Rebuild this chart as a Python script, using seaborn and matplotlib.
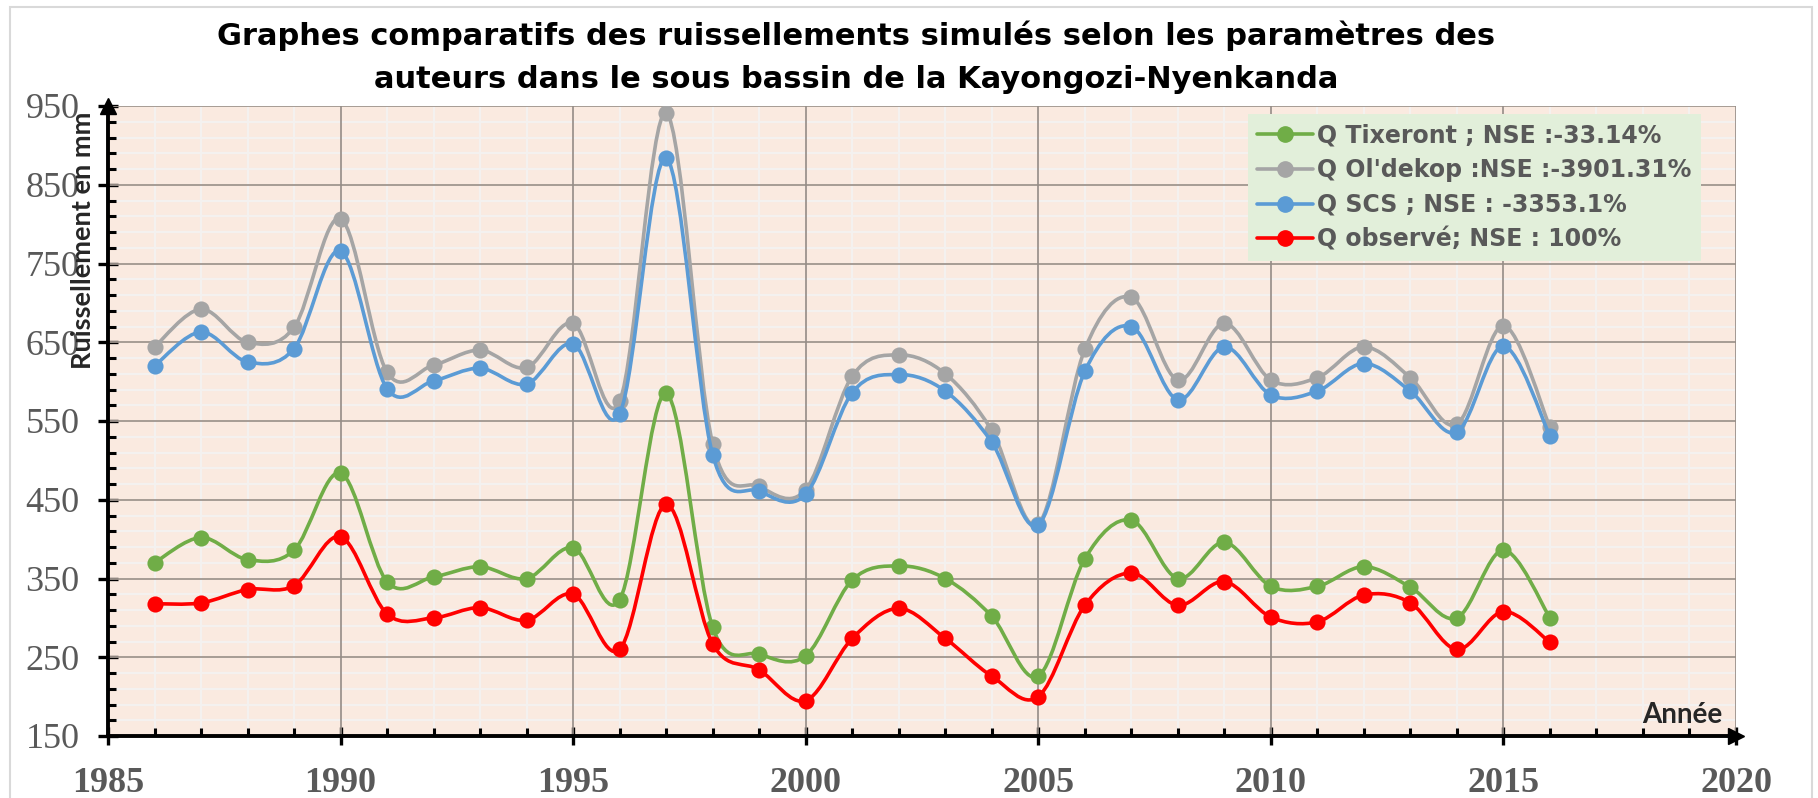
import matplotlib
matplotlib.use('Agg')
import matplotlib.pyplot as plt
import seaborn as sns
import pandas as pd
import numpy as np
from matplotlib.path import Path
from matplotlib.patches import PathPatch, Rectangle
from matplotlib.lines import Line2D
from matplotlib.ticker import MultipleLocator

# valeurs (ruissellement annuel en mm)
annees = list(range(1986, 2017))
q_tixeront = [370, 402, 374, 386, 484, 346, 352, 365, 350, 389, 323, 585, 288, 254, 252, 348,
              366, 350, 302, 226, 375, 424, 350, 396, 340, 340, 365, 339, 300, 386, 300]
q_oldekop = [644, 692, 650, 669, 807, 612, 621, 640, 618, 674, 575, 941, 521, 467, 463, 607,
             634, 610, 538, 419, 641, 707, 602, 674, 602, 605, 644, 605, 546, 671, 542]
q_scs = [620, 663, 625, 642, 766, 591, 601, 617, 597, 648, 559, 884, 507, 461, 457, 586,
         609, 588, 523, 418, 613, 670, 577, 644, 583, 588, 623, 588, 536, 645, 531]
q_observe = [318, 319, 336, 341, 403, 305, 300, 313, 297, 330, 260, 444, 267, 234, 195, 274,
             312, 274, 226, 200, 316, 357, 316, 346, 301, 295, 329, 319, 260, 308, 269]

series = ["Q Tixeront ; NSE :-33.14%", "Q Ol'dekop :NSE :-3901.31%",
          "Q SCS ; NSE : -3353.1%", "Q observé; NSE : 100%"]
couleurs = ["#70AD47", "#A5A5A5", "#5B9BD5", "#FF0000"]
valeurs = [q_tixeront, q_oldekop, q_scs, q_observe]

titre1 = "Graphes comparatifs des ruissellements simulés selon les paramètres des"
titre2 = "auteurs dans le sous bassin de la Kayongozi-Nyenkanda"


def courbeLissee(x, y):
    # courbe lissée façon Excel (Bezier / Catmull-Rom)
    x = np.asarray(x, float)
    y = np.asarray(y, float)
    xp = np.concatenate([[x[0]], x, [x[-1]]])
    yp = np.concatenate([[y[0]], y, [y[-1]]])
    verts = [(x[0], y[0])]
    codes = [Path.MOVETO]
    for i in range(len(x) - 1):
        c1 = (x[i] + (xp[i + 2] - xp[i]) / 6, y[i] + (yp[i + 2] - yp[i]) / 6)
        c2 = (x[i + 1] - (xp[i + 3] - xp[i + 1]) / 6, y[i + 1] - (yp[i + 3] - yp[i + 1]) / 6)
        verts += [c1, c2, (x[i + 1], y[i + 1])]
        codes += [Path.CURVE4] * 3
    return Path(verts, codes)


sns.set_style("white")
plt.rcParams['font.family'] = ['Liberation Sans', 'DejaVu Sans']

fig = plt.figure(figsize=(18.18, 7.98), dpi=100)
ax = fig.add_axes([108 / 1818, 1 - 736 / 798, 1628 / 1818, 630 / 798])
ax.set_facecolor("#FAEAE0")

for i, (nom, col, val) in enumerate(zip(series, couleurs, valeurs)):
    df = pd.DataFrame({"Année": annees, "Q": val})
    patch = PathPatch(courbeLissee(df["Année"], df["Q"]), facecolor='none', edgecolor=col,
                      lw=2.6, capstyle='round', joinstyle='round', zorder=3 + 2 * i)
    ax.add_patch(patch)
    sns.scatterplot(data=df, x="Année", y="Q", color=col, s=135, linewidth=0,
                    zorder=4 + 2 * i, ax=ax, legend=False)

ax.set_xlim(1985, 2020)
ax.set_ylim(150, 950)
ax.xaxis.set_major_locator(MultipleLocator(5))
ax.xaxis.set_minor_locator(MultipleLocator(1))
ax.yaxis.set_major_locator(MultipleLocator(100, offset=50))
ax.yaxis.set_minor_locator(MultipleLocator(20, offset=10))

# quadrillage : mineur blanc dessous, majeur gris par-dessus
ax.grid(which='minor', color='#F4F1EF', lw=1.6)
ax.grid(which='major', visible=False)
ax.set_axisbelow(True)
for v in ax.get_yticks():
    ax.axhline(v, color='#A0968F', lw=1.3, zorder=1)
for v in ax.get_xticks():
    ax.axvline(v, color='#958C86', lw=1.2, zorder=1)

for s in ['top', 'right']:
    ax.spines[s].set_visible(False)
for s in ['left', 'bottom']:
    ax.spines[s].set_linewidth(2.8)
    ax.spines[s].set_color('black')
    ax.spines[s].set_zorder(20)

ax.tick_params(axis='y', which='major', direction='inout', length=15, width=2.4,
               color='black', pad=13, labelsize=26, labelcolor='#595959', left=True)
ax.tick_params(axis='y', which='minor', direction='in', length=6, width=2.2,
               color='black', left=True)
ax.tick_params(axis='x', which='major', direction='inout', length=13, width=2.4,
               color='black', pad=16, labelsize=26, labelcolor='#595959', bottom=True)
ax.tick_params(axis='x', which='minor', direction='in', length=6, width=2.2,
               color='black', bottom=True)
for lab in ax.get_yticklabels():
    lab.set_fontfamily('Liberation Serif')
for lab in ax.get_xticklabels():
    lab.set_fontfamily('Liberation Serif')
    lab.set_fontweight('bold')
ax.set_xlabel('')
ax.set_ylabel('')

# flèches des axes
ax.plot(0, 1, marker='^', color='black', markersize=12, transform=ax.transAxes,
        clip_on=False, zorder=21)
ax.plot(1, 0, marker='>', color='black', markersize=12, transform=ax.transAxes,
        clip_on=False, zorder=21)

handles = [Line2D([], [], color=c, lw=2.6, marker='o', markersize=11) for c in couleurs]
leg = ax.legend(handles, series, loc='upper left', bbox_to_anchor=(0.700, 0.987),
                borderaxespad=0, frameon=True, fancybox=False, facecolor='#E2EFDA',
                edgecolor='none', framealpha=1, handlelength=2.35, handletextpad=0.2,
                labelspacing=0.45, borderpad=0.4,
                prop={'family': 'DejaVu Sans', 'weight': 'bold', 'size': 17})
for t in leg.get_texts():
    t.set_color('#595959')
leg.set_zorder(30)

fig.text(856 / 1818, 1 - 36 / 798, titre1, ha='center', va='center', fontsize=22,
         fontweight='bold', color='black', family=['DejaVu Sans'])
fig.text(856 / 1818, 1 - 80 / 798, titre2, ha='center', va='center', fontsize=22,
         fontweight='bold', color='black', family=['DejaVu Sans'])

fig.text(83 / 1818, 1 - 240 / 798, "Ruissellement en mm", rotation=90, ha='center',
         va='center', fontsize=19.5, fontweight='bold', family=['Lato', 'DejaVu Sans'])
fig.text(1722 / 1818, 1 - 723 / 798, "Année", ha='right', va='baseline', fontsize=20,
         fontweight='bold', family=['Lato', 'DejaVu Sans'])

fig.patches.append(Rectangle((10 / 1818, -0.05), 1802 / 1818, 1.05 - 7 / 798,
                             transform=fig.transFigure, fill=False, edgecolor='#D9D9D9', lw=1.5))

fig.savefig('out.png', dpi=100)
